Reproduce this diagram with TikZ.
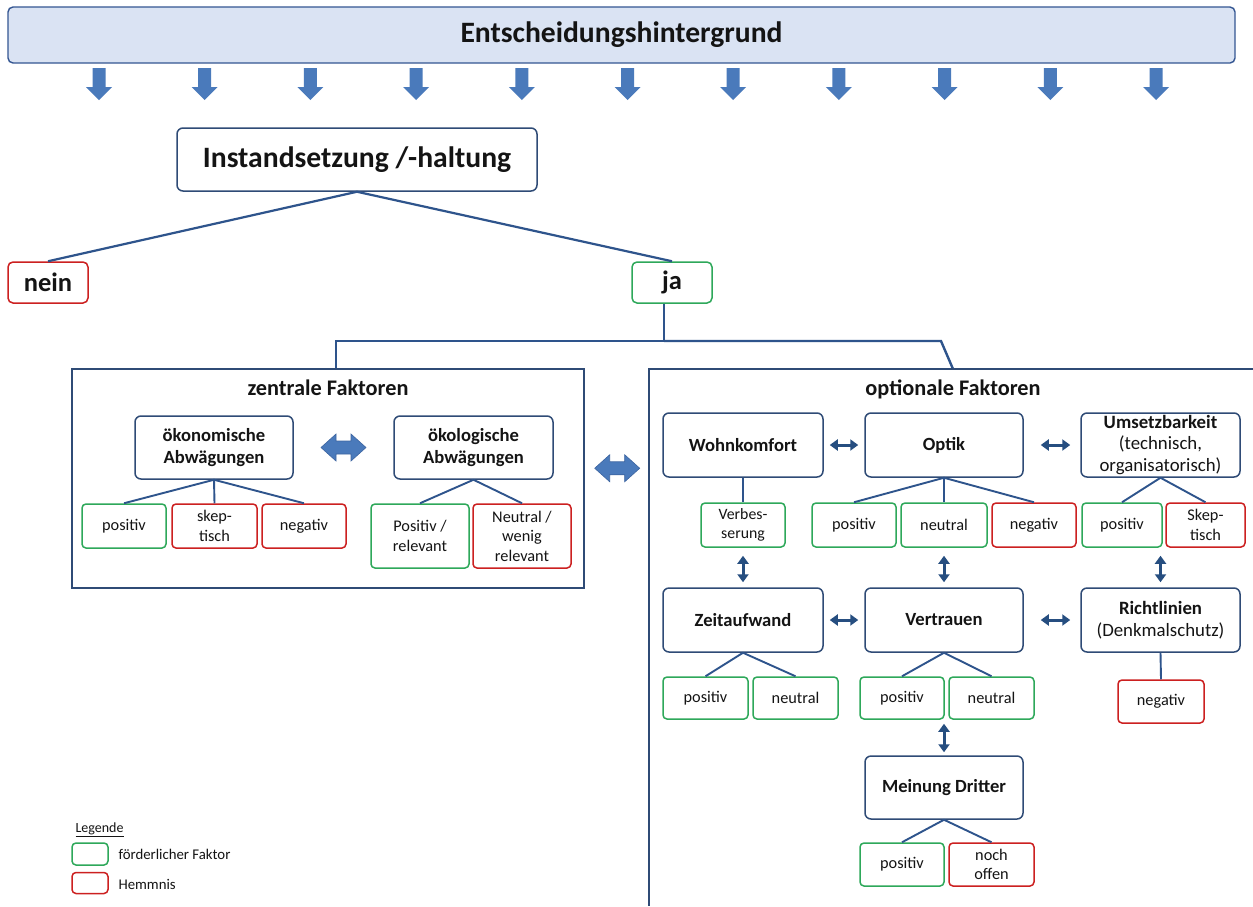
\documentclass[tikz,border=0pt]{standalone}
\usepackage{fontspec}
\setmainfont{Carlito}
\usetikzlibrary{arrows.meta,calc}
\newcommand{\myfs}[2]{\fontsize{#1}{#2}\selectfont}
\definecolor{dblue}{RGB}{47,75,118}
\definecolor{lblue}{RGB}{46,84,140}
\definecolor{sarr}{RGB}{38,78,128}
\definecolor{afill}{RGB}{74,122,187}
\definecolor{afilldark}{RGB}{60,100,160}
\definecolor{bannerfill}{RGB}{218,227,243}
\definecolor{bannerdraw}{RGB}{52,86,146}
\definecolor{fgreen}{RGB}{46,168,90}
\definecolor{hred}{RGB}{204,32,32}
\definecolor{txt}{RGB}{20,20,20}
\begin{document}
\begin{tikzpicture}[x=1pt,y=-1pt,
  mainbox/.style={draw=dblue,line width=1.5pt,rounded corners=6pt,fill=white,align=center,inner sep=0pt,text=txt,font=\bfseries\myfs{18.6}{21.5}},
  gbox/.style={draw=fgreen,line width=1.5pt,rounded corners=4pt,fill=white,align=center,inner sep=0pt,text=txt,font=\myfs{16.3}{19.5}},
  rbox/.style={gbox,draw=hred},
  sz/.style args={#1x#2}{minimum width=#1pt,minimum height=#2pt},
  conn/.style={draw=lblue,line width=1.9pt},
  frame/.style={draw=dblue,line width=2.8pt},
  ttl/.style={text=txt,font=\bfseries\myfs{22.3}{25}},
  sdarr/.style={draw=sarr,line width=3pt,{Triangle[length=8pt,width=11pt]}-{Triangle[length=8pt,width=11pt]}},
  bigdarr/.pic={\filldraw[fill=afill,draw=afilldark,line width=0.6pt] (-22.5,0) -- (-7.5,-13.5) -- (-7.5,-6.5) -- (7.5,-6.5) -- (7.5,-13.5) -- (22.5,0) -- (7.5,13.5) -- (7.5,6.5) -- (-7.5,6.5) -- (-7.5,13.5) -- cycle;}
]
\useasboundingbox[fill=white] (0,0) rectangle (1253,906);

% banner
\node[draw=bannerdraw,fill=bannerfill,line width=1.4pt,rounded corners=5pt,sz=1227x56,inner sep=0pt,text=txt,font=\bfseries\myfs{29.6}{33}] (banner) at (621.5,35) {Entscheidungshintergrund};
\foreach \i in {0,...,10}{
  \pgfmathsetmacro{\x}{99+105.7*\i}
  \fill[afill] (\x-6.5,68) -- (\x+6.5,68) -- (\x+6.5,87) -- (\x+13,87) -- (\x,100) -- (\x-13,87) -- (\x-6.5,87) -- cycle;
}

% decision
\node[mainbox,sz=360x63,font=\bfseries\myfs{29.6}{33}] (inst) at (357,159.5) {Instandsetzung /-haltung};
\node[rbox,sz=80x41,rounded corners=5pt,font=\bfseries\myfs{26.5}{29}] (nein) at (48,282.5) {nein};
\node[gbox,sz=80x41,rounded corners=5pt,font=\bfseries\myfs{26.5}{29}] (ja) at (672,282.5) {ja};
\draw[conn,line width=2.2pt] (inst.south) -- (nein.north);
\draw[conn,line width=2.2pt] (inst.south) -- (ja.north);

\coordinate (jl) at (336,341);
\coordinate (jr) at (941,341);
\coordinate (oftop) at (953,369);

% zentrale Faktoren
\node[frame,sz=512x219,inner sep=0pt] (zframe) at (328,478.5) {};
\draw[conn,line width=2.4pt] ([xshift=-8pt]ja.south) |- (jl) -- (jl |- zframe.north);
\draw[conn,line width=2.4pt] ([xshift=-8pt]ja.south |- jl) -- (jr) -- (oftop);
\node[ttl] (ztitle) at (328,388) {zentrale Faktoren};
\node[mainbox,sz=158x63] (oeko) at (214,447.5) {ökonomische\\Abwägungen};
\node[mainbox,sz=159x63] (oekol) at (473.5,447.5) {ökologische\\Abwägungen};
\node[gbox,sz=84x44] (z1) at (124,526) {positiv};
\node[rbox,sz=85x44] (z2) at (214.5,526) {skep-\\tisch};
\node[rbox,sz=84x44] (z3) at (304,526) {negativ};
\node[gbox,sz=98x64] (z4) at (420,536) {Positiv /\\relevant};
\node[rbox,sz=98x64] (z5) at (522,536) {Neutral /\\wenig\\relevant};
\draw[conn] (oeko.south) -- (z1.north);
\draw[conn] (oeko.south) -- (z2.north);
\draw[conn] (oeko.south) -- (z3.north);
\draw[conn] (oekol.south) -- (z4.north);
\draw[conn] (oekol.south) -- (z5.north);
\pic at ($(oeko.east)!0.5!(oekol.west)$) {bigdarr};

% optionale Faktoren
\draw[frame,line join=miter] (1253,369) -- (649,369) -- (649,906);
\coordinate (ofleft) at (649,458);
\pic at ($(zframe.east)!0.5!(ofleft)$) {bigdarr};
\node[ttl] (otitle) at (953,389) {optionale Faktoren};

\node[mainbox,sz=160x64] (wohn) at (743,445) {Wohnkomfort};
\node[mainbox,sz=158x64] (optik) at (944,445) {Optik};
\node[mainbox,sz=159x64,font=\myfs{18.8}{21.5}] (ums) at (1160.5,445) {\textbf{Umsetzbarkeit}\\(technisch,\\organisatorisch)};
\node[gbox,sz=84x44,font=\myfs{15.8}{18.5}] (verb) at (743,525) {Verbes-\\serung};
\node[gbox,sz=84x44] (opos) at (854,525) {positiv};
\node[gbox,sz=86x44] (oneu) at (944,525) {neutral};
\node[rbox,sz=84x44] (oneg) at (1034,525) {negativ};
\node[gbox,sz=80x44] (upos) at (1122,525) {positiv};
\node[rbox,sz=79x44] (uskep) at (1205.5,525) {Skep-\\tisch};
\draw[conn] (wohn.south) -- (verb.north);
\draw[conn] (optik.south) -- (opos.north);
\draw[conn] (optik.south) -- (oneu.north);
\draw[conn] (optik.south) -- (oneg.north);
\draw[conn] (ums.south) -- (upos.north);
\draw[conn] (ums.south) -- (uskep.north);

\node[mainbox,sz=160x64] (zeit) at (743,620) {Zeitaufwand};
\node[mainbox,sz=158x64] (vert) at (944,620) {Vertrauen};
\node[mainbox,sz=159x64,font=\myfs{18.8}{21.5}] (richt) at (1160.5,620) {\textbf{Richtlinien}\\(Denkmalschutz)};
\node[gbox,sz=85x42] (zpos) at (705.5,698) {positiv};
\node[gbox,sz=85x42] (zneu) at (795.5,698) {neutral};
\node[gbox,sz=84x42] (vpos) at (902,698) {positiv};
\node[gbox,sz=85x42] (vneu) at (991.5,698) {neutral};
\node[rbox,sz=86x43] (rneg) at (1161,701.5) {negativ};
\draw[conn] (zeit.south) -- (zpos.north);
\draw[conn] (zeit.south) -- (zneu.north);
\draw[conn] (vert.south) -- (vpos.north);
\draw[conn] (vert.south) -- (vneu.north);
\draw[conn] (richt.south) -- (rneg.north);

\node[mainbox,sz=158x63] (mein) at (944,787.5) {Meinung Dritter};
\node[gbox,sz=84x43] (mpos) at (902,864.5) {positiv};
\node[rbox,sz=85x43] (moff) at (991.5,864.5) {noch\\offen};
\draw[conn] (mein.south) -- (mpos.north);
\draw[conn] (mein.south) -- (moff.north);

% small double arrows
\draw[sdarr,shorten <=6pt,shorten >=6pt] (wohn.east) -- (optik.west);
\draw[sdarr,shorten <=17pt,shorten >=10pt] (optik.east) -- (ums.west);
\draw[sdarr,shorten <=6pt,shorten >=6pt] (zeit.east) -- (vert.west);
\draw[sdarr,shorten <=17pt,shorten >=10pt] (vert.east) -- (richt.west);
\draw[sdarr,shorten <=8pt,shorten >=5pt] (verb.south) -- (zeit.north);
\draw[sdarr,shorten <=8pt,shorten >=5pt] (oneu.south) -- (vert.north);
\draw[sdarr,shorten <=8pt,shorten >=5pt] (richt.north |- uskep.south) -- (richt.north);
\draw[sdarr,shorten <=4pt,shorten >=3pt] (mein.north |- vpos.south) -- (mein.north);

% legend
\node[anchor=west,text=txt,font=\myfs{14}{16}] (leg) at (72,830) {\underline{Legende}};
\node[gbox,sz=36x22] (lg) at (90,854) {};
\node[rbox,sz=36x21] (lr) at (90,883) {};
\node[anchor=west,text=txt,font=\myfs{14.8}{17}] (lgt) at (115,854) {förderlicher Faktor};
\node[anchor=west,text=txt,font=\myfs{14.8}{17}] (lrt) at (115,884) {Hemmnis};
\end{tikzpicture}
\end{document}
